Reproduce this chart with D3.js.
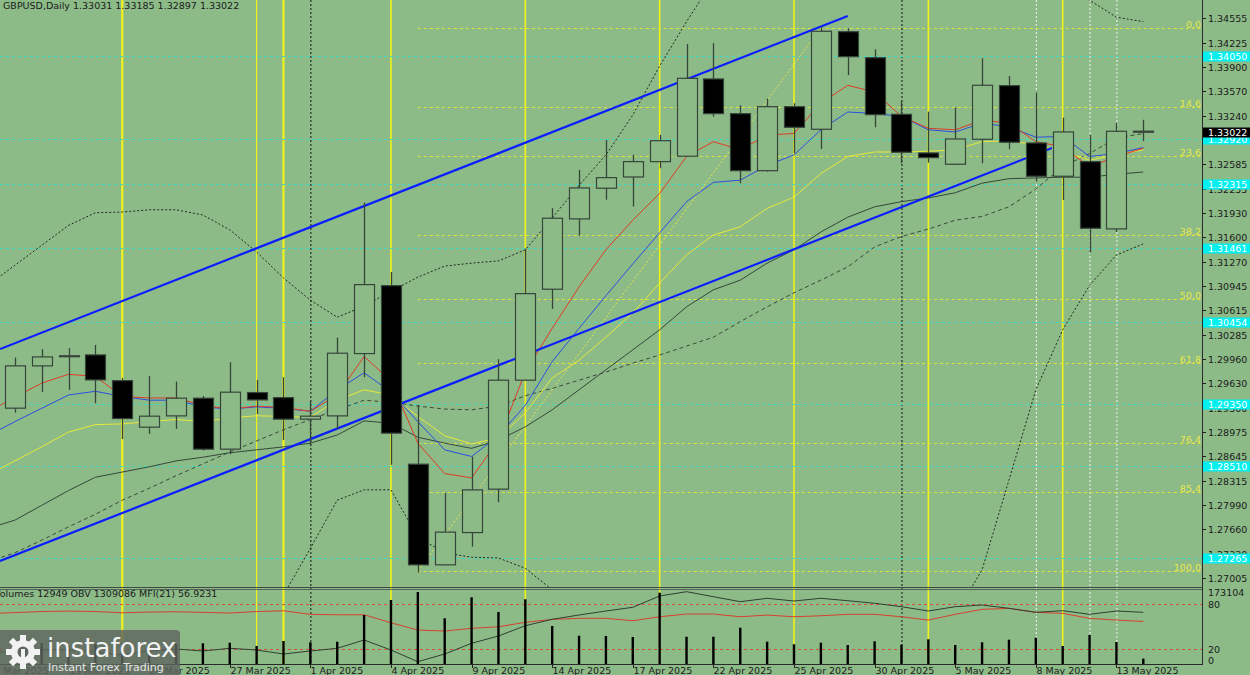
<!DOCTYPE html>
<html><head><meta charset="utf-8">
<script src="https://cdn.jsdelivr.net/npm/d3@7"></script>
<style>
html,body{margin:0;padding:0;background:#8dbb88;overflow:hidden;}
svg{display:block;}
text{font-family:"DejaVu Sans",Verdana,sans-serif;}
</style></head><body>
<svg id="c" width="1250" height="675"></svg>
<script>
// ---------- DATA ----------
const symbolTitle = "GBPUSD,Daily";
const prevDate = "14 Mar 2025";
const dates = ["17 Mar 2025","18 Mar 2025","19 Mar 2025","20 Mar 2025","21 Mar 2025","24 Mar 2025","25 Mar 2025","26 Mar 2025","27 Mar 2025","28 Mar 2025","31 Mar 2025","1 Apr 2025","2 Apr 2025","3 Apr 2025","4 Apr 2025","7 Apr 2025","8 Apr 2025","9 Apr 2025","10 Apr 2025","11 Apr 2025","14 Apr 2025","15 Apr 2025","16 Apr 2025","17 Apr 2025","18 Apr 2025","21 Apr 2025","22 Apr 2025","23 Apr 2025","24 Apr 2025","25 Apr 2025","28 Apr 2025","29 Apr 2025","30 Apr 2025","1 May 2025","2 May 2025","5 May 2025","6 May 2025","7 May 2025","8 May 2025","9 May 2025","12 May 2025","13 May 2025","14 May 2025"];
const open  = [1.29292,1.29863,1.29990,1.30011,1.29664,1.29036,1.29188,1.29427,1.28739,1.29503,1.29435,1.29144,1.29188,1.30029,1.30946,1.28536,1.27177,1.27613,1.28199,1.29670,1.30898,1.31847,1.32261,1.32413,1.32620,1.32693,1.33736,1.33268,1.32498,1.33362,1.33057,1.34374,1.34023,1.33259,1.32737,1.32585,1.32922,1.33646,1.32872,1.32423,1.32620,1.31712,1.33031];
const high  = [1.29975,1.30088,1.30102,1.30146,1.29701,1.29728,1.29651,1.29458,1.29913,1.29674,1.29710,1.29391,1.30245,1.32067,1.31131,1.29337,1.28145,1.28639,1.29953,1.31446,1.31991,1.32508,1.32913,1.32714,1.32980,1.34208,1.34218,1.33381,1.33470,1.33408,1.34434,1.34420,1.34137,1.33439,1.33295,1.33349,1.34015,1.33776,1.33556,1.33214,1.32980,1.33142,1.33185];
const low   = [1.29233,1.29508,1.29539,1.29359,1.28874,1.28945,1.29013,1.28720,1.28671,1.29215,1.28864,1.28787,1.29009,1.29710,1.28527,1.27073,1.27170,1.27424,1.28023,1.29660,1.30632,1.31621,1.32107,1.32013,1.32531,1.32690,1.33227,1.32328,1.32485,1.32733,1.32791,1.33790,1.33084,1.32598,1.32606,1.32580,1.32598,1.32787,1.32350,1.32103,1.31392,1.31671,1.32897];
const close = [1.29863,1.29984,1.30000,1.29674,1.29152,1.29184,1.29427,1.28739,1.29508,1.29404,1.29144,1.29184,1.30034,1.30960,1.28955,1.27177,1.27619,1.28189,1.29670,1.30838,1.31856,1.32265,1.32404,1.32620,1.32903,1.33745,1.33268,1.32498,1.33362,1.33084,1.34380,1.34037,1.33254,1.32747,1.32674,1.32926,1.33651,1.32882,1.32423,1.33021,1.31721,1.33030,1.33022];
const volume = [45700,50500,43300,48100,50500,45700,48100,49800,51200,43300,55300,52200,53600,117800,153900,173104,109900,160400,125000,155600,91400,68000,67300,64900,171400,65600,65600,87300,53600,47400,51200,45700,54600,46400,59400,45700,52200,58400,63200,43300,69700,52900,12949];

// indicator lines: first value belongs to the previous session (14 Mar)
const maRed    = [1.2924,1.2944,1.2963,1.2975,1.2972,1.2945,1.2943,1.2943,1.2933,1.2928,1.2932,1.2930,1.2925,1.2947,1.2999,1.2966,1.2882,1.2841,1.2835,1.2886,1.2978,1.3037,1.3093,1.3143,1.3183,1.3219,1.3269,1.3289,1.3278,1.3298,1.3300,1.3341,1.3365,1.3356,1.3323,1.3307,1.3305,1.3318,1.3314,1.3289,1.3282,1.3255,1.3269,1.3280];
const maBlue   = [1.2892,1.2911,1.2929,1.2947,1.2952,1.2945,1.2940,1.2940,1.2931,1.2928,1.2931,1.2929,1.2925,1.2954,1.2977,1.2951,1.2911,1.2873,1.2864,1.2892,1.2933,1.2992,1.3037,1.3081,1.3124,1.3166,1.3208,1.3234,1.3237,1.3257,1.3271,1.3305,1.3329,1.3327,1.3323,1.3305,1.3302,1.3314,1.3309,1.3295,1.3296,1.3269,1.3273,1.3281];
const maYellow = [1.2839,1.2858,1.2877,1.2897,1.2907,1.2908,1.2911,1.2914,1.2911,1.2916,1.2919,1.2918,1.2917,1.2940,1.2954,1.2947,1.2918,1.2892,1.2881,1.2889,1.2923,1.2970,1.2994,1.3025,1.3058,1.3098,1.3136,1.3163,1.3174,1.3199,1.3214,1.3246,1.3269,1.3275,1.3275,1.3276,1.3278,1.3289,1.3290,1.3285,1.3275,1.3264,1.3271,1.3278];
const maSlow   = [1.2767,1.2778,1.2798,1.2818,1.2836,1.2843,1.2850,1.2858,1.2863,1.2869,1.2873,1.2877,1.2882,1.2893,1.2912,1.2909,1.2890,1.2882,1.2875,1.2886,1.2904,1.2927,1.2954,1.2981,1.3008,1.3035,1.3066,1.3089,1.3102,1.3125,1.3143,1.3167,1.3187,1.3201,1.3208,1.3213,1.3220,1.3233,1.3239,1.3240,1.3241,1.3241,1.3245,1.3248];
const bbMid    = [1.2722,1.2734,1.2751,1.2769,1.2786,1.2805,1.2821,1.2838,1.2854,1.2870,1.2885,1.2900,1.2914,1.2927,1.2940,1.2937,1.2932,1.2928,1.2927,1.2932,1.2946,1.2956,1.2967,1.2978,1.2990,1.3001,1.3013,1.3025,1.3046,1.3066,1.3085,1.3102,1.3120,1.3147,1.3161,1.3171,1.3183,1.3188,1.3201,1.3225,1.3255,1.3273,1.3294,1.3300];
const bbUpper  = [1.3095,1.3122,1.3149,1.3176,1.3193,1.3194,1.3197,1.3197,1.3190,1.3170,1.3140,1.3105,1.3075,1.3052,1.3067,1.3087,1.3106,1.3121,1.3125,1.3128,1.3143,1.3186,1.3230,1.3271,1.3325,1.3391,1.3451,1.3507,1.3548,1.3575,1.3588,1.3602,1.3602,1.3595,1.3588,1.3575,1.3561,1.3548,1.3534,1.3521,1.3500,1.3480,1.3457,1.3451];
const bbLower  = [1.2454,1.2468,1.2481,1.2488,1.2495,1.2508,1.2522,1.2535,1.2562,1.2589,1.2616,1.2677,1.2740,1.2805,1.2819,1.2819,1.2755,1.2734,1.2728,1.2727,1.2713,1.2684,1.2643,1.2603,1.2562,1.2535,1.2508,1.2495,1.2488,1.2481,1.2481,1.2488,1.2508,1.2535,1.2562,1.2603,1.2650,1.2711,1.2832,1.2954,1.3035,1.3095,1.3136,1.3151];
const obv = [713586,713586,743586,743586,713586,668586,728586,758586,728586,769086,743586,683586,728586,769086,893586,743586,568086,683586,844086,953586,1108086,1204086,1268586,1328586,1384086,1553586,1618086,1543086,1468086,1519086,1478586,1519086,1483086,1444086,1393086,1328586,1393086,1418586,1369086,1309086,1333086,1279086,1328586,1309086];
const mfi = [67.4,68.7,70.1,70.7,70.1,68.5,69.4,69.8,69.0,68.1,70.1,71.1,66.4,65.8,65.8,55.2,45.6,44.2,47.8,49.9,55.8,59.7,61.1,61.1,57.9,63.2,66.8,66.8,63.2,65.4,63.2,64.5,66.4,66.4,63.2,58.8,66.4,73.0,74.3,69.0,67.7,61.1,58.8,56.9231];

const priceTicks = [1.34555,1.34225,1.33900,1.33570,1.33240,1.32585,1.32255,1.31930,1.31600,1.31270,1.30945,1.30615,1.30285,1.29960,1.29630,1.29300,1.28975,1.28645,1.28315,1.27990,1.27660,1.27330,1.27005];
const cyanLevels = [1.34050,1.32920,1.32315,1.31461,1.30454,1.29350,1.28510,1.27265];
const fibLevels = [0.0,14.6,23.6,38.2,50.0,61.8,76.4,85.4,100.0];
const fibHigh = 1.34424, fibLow = 1.27096;
const fibFrom = "7 Apr 2025", fibTo = "28 Apr 2025";
const channelUpper = [[-0.55,1.3009],[31.0,1.34586]];
const channelLower = [[-0.55,1.27229],[38.6,1.32804]];
const dateLabels = ["14 Mar 2025","19 Mar 2025","24 Mar 2025","27 Mar 2025","1 Apr 2025","4 Apr 2025","9 Apr 2025","14 Apr 2025","17 Apr 2025","22 Apr 2025","25 Apr 2025","30 Apr 2025","5 May 2025","8 May 2025","13 May 2025"];
const yellowMarks = ["21 Mar 2025","28 Mar 2025","31 Mar 2025","4 Apr 2025","11 Apr 2025","18 Apr 2025","25 Apr 2025","2 May 2025","9 May 2025"];
const blackDotMarks = ["1 Apr 2025","1 May 2025"];
const whiteDotMarks = ["8 May 2025","12 May 2025","13 May 2025"];
const volTicks = [173104];
const mfiLevels = [80,20];
const mfiAxis = [80,20,0];

// ---------- LAYOUT ----------
const W = 1250, H = 675, plotR = 1202, mainB = 587, subT = 589, subB = 664;
const svg = d3.select("#c");
const bg = "#8dbb88";
svg.append("rect").attr("width",W).attr("height",H).attr("fill",bg);

const allDates = [prevDate].concat(dates);
const idx = d => allDates.indexOf(d) - 1;
const x = d3.scaleLinear().domain([0,42]).range([14.8,1143.3]);
const y = d3.scaleLinear().domain([1.34555,1.27005]).range([18.3,577.6]);
const yVol = d3.scaleLinear().domain([0,173104]).range([subB,592]);
const yMfi = d3.scaleLinear().domain([0,100]).range([664.4,589]);
const yObv = d3.scaleLinear().domain([533586,1658586]).range([subB,subT]);

const defs = svg.append("defs");
defs.append("clipPath").attr("id","cm").append("rect").attr("x",0).attr("y",0).attr("width",plotR).attr("height",mainB);
defs.append("clipPath").attr("id","cs").append("rect").attr("x",0).attr("y",subT).attr("width",plotR).attr("height",subB-subT);

// vertical event lines (full height, behind everything)
const vl = svg.append("g");
yellowMarks.forEach((d,k) => {
  const i = idx(d);
  const w = (d==="21 Mar 2025"||d==="31 Mar 2025") ? 2.2 : (d==="28 Mar 2025" ? 1.2 : 1.6);
  vl.append("line").attr("x1",x(i)).attr("x2",x(i)).attr("y1",0).attr("y2",subB)
    .attr("stroke","#f2f21a").attr("stroke-width",w);
});
blackDotMarks.forEach(d => {
  const i = idx(d);
  vl.append("line").attr("x1",x(i)+0.5).attr("x2",x(i)+0.5).attr("y1",0).attr("y2",subB)
    .attr("stroke","#111").attr("stroke-width",1).attr("stroke-dasharray","2,2");
});
whiteDotMarks.forEach(d => {
  const i = idx(d);
  vl.append("line").attr("x1",x(i)+0.5).attr("x2",x(i)+0.5).attr("y1",0).attr("y2",subB)
    .attr("stroke","#f4f4f4").attr("stroke-width",1).attr("stroke-dasharray","2,2");
});

const main = svg.append("g").attr("clip-path","url(#cm)");
const sub = svg.append("g").attr("clip-path","url(#cs)");

// cyan horizontal levels
cyanLevels.forEach(p => {
  main.append("line").attr("x1",0).attr("x2",plotR).attr("y1",Math.round(y(p))+0.5).attr("y2",Math.round(y(p))+0.5)
    .attr("stroke","#3fd9c9").attr("stroke-width",1).attr("stroke-dasharray","3,3");
});

// fibonacci
const fibX0 = x(idx(fibFrom));
fibLevels.forEach(l => {
  const p = fibHigh - (fibHigh-fibLow)*l/100;
  const yy = Math.round(y(p))+0.5;
  main.append("line").attr("x1",fibX0).attr("x2",plotR-1).attr("y1",yy).attr("y2",yy)
    .attr("stroke","#e2e23a").attr("stroke-width",1).attr("stroke-dasharray","3,3");
  svg.append("text").attr("x",plotR-1).attr("y",yy-1).attr("text-anchor","end")
    .attr("font-size",9.5).attr("fill","#e8e84c").text(l.toFixed(1));
});
main.append("line").attr("x1",fibX0).attr("y1",y(fibLow)).attr("x2",x(idx(fibTo))).attr("y2",y(fibHigh))
  .attr("stroke","#e6e64a").attr("stroke-width",1).attr("stroke-dasharray","2,2");

// indicator lines
const lineGen = (arr, sc) => d3.line().x((d,i)=>x(i-1)).y(d=>sc(d))(arr);
main.append("path").attr("d",lineGen(bbUpper,y)).attr("fill","none").attr("stroke","#1e2a1e").attr("stroke-width",1).attr("stroke-dasharray","2,2");
main.append("path").attr("d",lineGen(bbLower,y)).attr("fill","none").attr("stroke","#1e2a1e").attr("stroke-width",1).attr("stroke-dasharray","2,2");
main.append("path").attr("d",lineGen(bbMid,y)).attr("fill","none").attr("stroke","#3a4a3a").attr("stroke-width",1).attr("stroke-dasharray","4,3");
main.append("path").attr("d",lineGen(maSlow,y)).attr("fill","none").attr("stroke","#34483a").attr("stroke-width",1);
main.append("path").attr("d",lineGen(maYellow,y)).attr("fill","none").attr("stroke","#e8e83a").attr("stroke-width",1);
main.append("path").attr("d",lineGen(maBlue,y)).attr("fill","none").attr("stroke","#2a4fe0").attr("stroke-width",1);
main.append("path").attr("d",lineGen(maRed,y)).attr("fill","none").attr("stroke","#e03a28").attr("stroke-width",1);

// channel
[channelUpper, channelLower].forEach(c => {
  main.append("line").attr("x1",x(c[0][0])).attr("y1",y(c[0][1])).attr("x2",x(c[1][0])).attr("y2",y(c[1][1]))
    .attr("stroke","#0a1eff").attr("stroke-width",2.2);
});

// candles (bull bodies filled with the chart colour, as in the terminal)
const bw = 20, cs = "#36453a";
dates.forEach((d,i) => {
  const cx = Math.round(x(i))+0.5;
  const up = close[i] >= open[i];
  main.append("line").attr("x1",cx).attr("x2",cx).attr("y1",y(high[i])).attr("y2",y(low[i]))
    .attr("stroke",cs).attr("stroke-width",1.3);
  const top = y(Math.max(open[i],close[i])), bot = y(Math.min(open[i],close[i]));
  const h = Math.max(bot-top, 1);
  main.append("rect").attr("x",cx-bw/2).attr("y",top).attr("width",bw).attr("height",h)
    .attr("fill", up ? bg : "#000").attr("stroke", cs).attr("stroke-width",1.2);
});

// ---------- sub window ----------
mfiLevels.forEach(l => {
  sub.append("line").attr("x1",0).attr("x2",plotR).attr("y1",Math.round(yMfi(l))+0.5).attr("y2",Math.round(yMfi(l))+0.5)
    .attr("stroke","#d8503a").attr("stroke-width",1).attr("stroke-dasharray","3,3");
});
sub.append("path").attr("d",lineGen(mfi,yMfi)).attr("fill","none").attr("stroke","#d8402e").attr("stroke-width",1);
sub.append("path").attr("d",lineGen(obv,yObv)).attr("fill","none").attr("stroke","#2f3f32").attr("stroke-width",1);
dates.forEach((d,i) => {
  sub.append("line").attr("x1",x(i)).attr("x2",x(i)).attr("y1",subB).attr("y2",yVol(volume[i]))
    .attr("stroke","#000").attr("stroke-width",2.4);
});

// frames
svg.append("line").attr("x1",0).attr("x2",plotR).attr("y1",587.5).attr("y2",587.5).attr("stroke","#3f4a40").attr("stroke-width",1);
svg.append("line").attr("x1",0).attr("x2",plotR).attr("y1",589.5).attr("y2",589.5).attr("stroke","#56635a").attr("stroke-width",1);
svg.append("line").attr("x1",0).attr("x2",plotR).attr("y1",subB+0.5).attr("y2",subB+0.5).attr("stroke","#2a2a2a").attr("stroke-width",1);
svg.append("line").attr("x1",plotR+0.5).attr("x2",plotR+0.5).attr("y1",0).attr("y2",subB+1).attr("stroke","#2a2a2a").attr("stroke-width",1);

// price axis
const ax = svg.append("g");
priceTicks.forEach(p => {
  const yy = Math.round(y(p))+0.5;
  ax.append("line").attr("x1",plotR).attr("x2",plotR+4).attr("y1",yy).attr("y2",yy).attr("stroke","#222");
  ax.append("text").attr("x",1208).attr("y",yy+3.5).attr("font-size",9.5).attr("fill","#1a1a1a").text(p.toFixed(5));
});
cyanLevels.forEach(p => {
  const yy = Math.round(y(p));
  ax.append("rect").attr("x",1203).attr("y",yy-4.5).attr("width",47).attr("height",10).attr("fill","#00f0f0");
  ax.append("text").attr("x",1208).attr("y",yy+3.5).attr("font-size",9.5).attr("fill","#ffffff").text(p.toFixed(5));
});
{
  const p = close[close.length-1];
  const yy = Math.round(y(p));
  ax.append("rect").attr("x",1203).attr("y",yy-4.5).attr("width",47).attr("height",10).attr("fill","#000");
  ax.append("text").attr("x",1208).attr("y",yy+3.5).attr("font-size",9.5).attr("fill","#ffffff").text(p.toFixed(5));
}
// sub axis
ax.append("text").attr("x",1208).attr("y",596).attr("font-size",9.5).attr("fill","#1a1a1a").text(volTicks[0]);
mfiAxis.forEach(l => {
  const yy = l===0 ? 660.5 : Math.round(yMfi(l));
  ax.append("text").attr("x",1208).attr("y",yy+3.5).attr("font-size",9.5).attr("fill","#1a1a1a").text(l);
});

// time axis
dateLabels.forEach(d => {
  const xx = Math.round(x(idx(d)))+0.5;
  ax.append("line").attr("x1",xx).attr("x2",xx).attr("y1",subB).attr("y2",subB+4).attr("stroke","#222");
  ax.append("text").attr("x",xx).attr("y",673.5).attr("font-size",9.5).attr("fill","#1a1a1a").text(d);
});

// headers
svg.append("text").attr("x",3).attr("y",9).attr("font-size",9.5).attr("fill","#1a1a1a")
  .text(symbolTitle + "  " + [open,high,low,close].map(a=>a[a.length-1].toFixed(5)).join(" "));
svg.append("text").attr("x",-6).attr("y",597).attr("font-size",9.5).attr("fill","#1a1a1a")
  .text("Volumes " + volume[volume.length-1] + "  OBV " + obv[obv.length-1] + "  MFI(21) " + mfi[mfi.length-1].toFixed(4));

// watermark logo
const lg = svg.append("g");
lg.append("rect").attr("x",-4).attr("y",630).attr("width",184).attr("height",50).attr("rx",4).attr("fill","#5e655f").attr("opacity",0.82);
const gear = lg.append("g").attr("transform","translate(23,652)");
for (let k=0;k<8;k++){
  gear.append("rect").attr("x",-3).attr("y",-17).attr("width",6).attr("height",8).attr("fill","#f2f2f2")
    .attr("transform","rotate("+(k*45)+")");
}
gear.append("circle").attr("r",12).attr("fill","#f2f2f2");
gear.append("circle").attr("r",5.5).attr("fill","#5e655f");
gear.append("rect").attr("x",-2).attr("y",-3).attr("width",4).attr("height",14).attr("fill","#f2f2f2");
lg.append("text").attr("x",47).attr("y",657).attr("font-family","'Open Sans',sans-serif").attr("font-size",26)
  .attr("fill","#f2f2f2").text("instaforex");
lg.append("text").attr("x",48).attr("y",671).attr("font-family","'Open Sans',sans-serif").attr("font-size",11)
  .attr("fill","#e6e6e6").text("Instant Forex Trading");
</script>
</body></html>
